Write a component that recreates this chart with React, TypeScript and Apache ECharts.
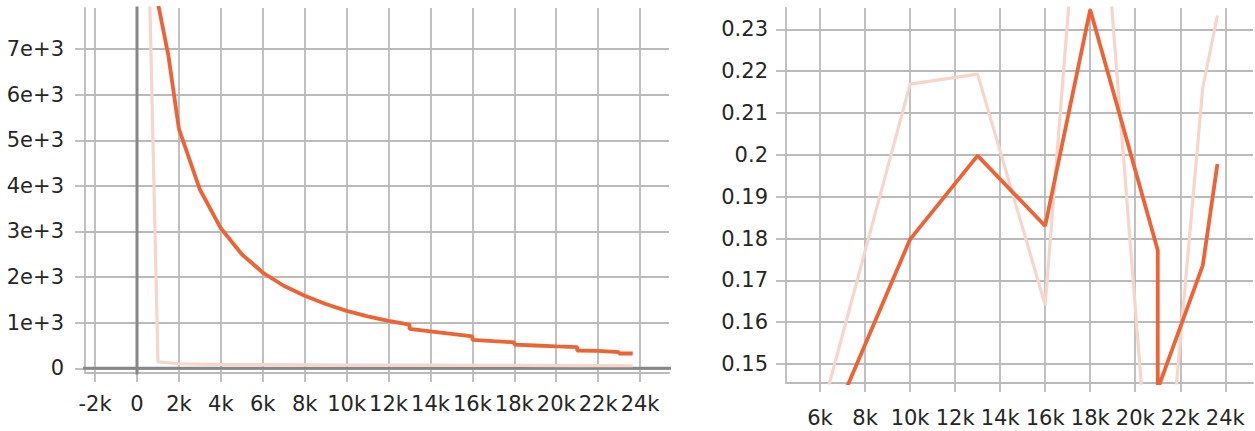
import React, { useEffect, useRef } from "react";
import * as echarts from "echarts";

// ---------- Left panel (loss-like, large values) ----------
const leftSmoothSteps = [0, 1000, 1500, 2000, 3000, 4000, 5000, 6000, 7000, 8000, 9000, 10000, 11000, 12000, 13000, 13000, 14000, 15000, 16000, 16000, 17000, 18000, 18000, 19000, 20000, 21000, 21000, 22000, 23000, 23000, 23650];
const leftSmoothValues = [20400, 8000, 6850, 5250, 3920, 3070, 2500, 2100, 1810, 1590, 1410, 1260, 1140, 1040, 960, 865, 810, 755, 700, 625, 595, 570, 520, 500, 480, 465, 390, 380, 355, 325, 325];
const leftRawSteps = [0, 1000, 2000, 3000, 4000, 6000, 8000, 10000, 13000, 16000, 18000, 21000, 23000, 23650];
const leftRawValues = [20400, 140, 100, 90, 85, 80, 76, 72, 68, 64, 62, 60, 58, 56];
const leftXTicks = [-2000, 0, 2000, 4000, 6000, 8000, 10000, 12000, 14000, 16000, 18000, 20000, 22000, 24000];
const leftXLabels = ["-2k", "0", "2k", "4k", "6k", "8k", "10k", "12k", "14k", "16k", "18k", "20k", "22k", "24k"];
const leftYTicks = [0, 1000, 2000, 3000, 4000, 5000, 6000, 7000];
const leftYLabels = ["0", "1e+3", "2e+3", "3e+3", "4e+3", "5e+3", "6e+3", "7e+3"];

// ---------- Right panel (small values) ----------
const rightSmoothSteps = [7000, 10000, 13000, 16000, 18000, 21000, 21000, 23000, 23650];
const rightSmoothValues = [0.142, 0.1798, 0.1998, 0.183, 0.2347, 0.1772, 0.144, 0.1736, 0.1978];
const rightRawSteps = [6000, 10000, 13000, 16000, 18000, 21000, 23000, 23650];
const rightRawValues = [0.137, 0.2169, 0.2193, 0.1641, 0.301, 0.095, 0.2161, 0.2333];
const rightXTicks = [6000, 8000, 10000, 12000, 14000, 16000, 18000, 20000, 22000, 24000];
const rightXLabels = ["6k", "8k", "10k", "12k", "14k", "16k", "18k", "20k", "22k", "24k"];
const rightYTicks = [0.15, 0.16, 0.17, 0.18, 0.19, 0.2, 0.21, 0.22, 0.23];
const rightYLabels = ["0.15", "0.16", "0.17", "0.18", "0.19", "0.2", "0.21", "0.22", "0.23"];

const SMOOTH = "#ee6336";
const RAW = "#f6d5ca";
const GRID = "#bababa";
const ZERO = "#878787";
const TEXT = "#262626";
const FONT = "DejaVu Sans";
const FONT_SIZE = 21;

const zip = (xs: number[], ys: number[]) => xs.map((x, i) => [x, ys[i]]);

function labelFor(ticks: number[], labels: string[]) {
  return (v: number) => {
    let best = 0;
    for (let i = 0; i < ticks.length; i++) {
      if (Math.abs(ticks[i] - v) < Math.abs(ticks[best] - v)) best = i;
    }
    return labels[best];
  };
}

function xAxis(grid: number, min: number, max: number, ticks: number[], labels: string[], margin: number) {
  return {
    type: "value",
    gridIndex: grid,
    min,
    max,
    axisLine: { show: true, onZero: false, lineStyle: { color: GRID, width: 1.8 } },
    axisTick: { show: true, length: 9, customValues: ticks, lineStyle: { color: GRID, width: 1.8 } },
    axisLabel: {
      customValues: ticks,
      formatter: labelFor(ticks, labels),
      margin,
      fontSize: FONT_SIZE,
      color: TEXT,
      fontFamily: FONT,
    },
    splitLine: { show: true, lineStyle: { color: GRID, width: 1.8 } },
  };
}

function yAxis(grid: number, min: number, max: number, ticks: number[], labels: string[], margin: number) {
  return {
    type: "value",
    gridIndex: grid,
    min,
    max,
    axisLine: { show: true, onZero: false, lineStyle: { color: GRID, width: 1.8 } },
    axisTick: { show: true, length: 10, customValues: ticks, lineStyle: { color: GRID, width: 1.8 } },
    axisLabel: {
      customValues: ticks,
      formatter: labelFor(ticks, labels),
      margin,
      fontSize: FONT_SIZE,
      color: TEXT,
      fontFamily: FONT,
    },
    splitLine: { show: true, lineStyle: { color: GRID, width: 1.8 } },
  };
}

export default function App() {
  const ref = useRef<HTMLDivElement>(null);
  useEffect(() => {
    if (!ref.current) return;
    const chart = echarts.init(ref.current, null, { renderer: "svg" });
    const option = {
      animation: false,
      backgroundColor: "#ffffff",
      grid: [
        { left: 85, top: 8, width: 584, height: 365 },
        { left: 786, top: 8, width: 467, height: 375 },
      ],
      xAxis: [
        xAxis(0, -2481, 25380, leftXTicks, leftXLabels, 20),
        xAxis(1, 4490, 25230, rightXTicks, rightXLabels, 24),
      ],
      yAxis: [
        yAxis(0, -103, 7900, leftYTicks, leftYLabels, 21),
        yAxis(1, 0.14546, 0.2351, rightYTicks, rightYLabels, 18),
      ],
      series: [
        {
          type: "line",
          xAxisIndex: 0,
          yAxisIndex: 0,
          data: [[0, -1000], [0, 10000]],
          showSymbol: false,
          clip: true,
          silent: true,
          lineStyle: { color: ZERO, width: 3 },
        },
        {
          type: "line",
          xAxisIndex: 0,
          yAxisIndex: 0,
          data: [[-5000, 0], [30000, 0]],
          showSymbol: false,
          clip: true,
          silent: true,
          lineStyle: { color: ZERO, width: 3 },
        },
        {
          type: "line",
          xAxisIndex: 0,
          yAxisIndex: 0,
          data: zip(leftRawSteps, leftRawValues),
          showSymbol: false,
          clip: true,
          lineStyle: { color: RAW, width: 3.2 },
        },
        {
          type: "line",
          xAxisIndex: 0,
          yAxisIndex: 0,
          data: zip(leftSmoothSteps, leftSmoothValues),
          showSymbol: false,
          clip: true,
          lineStyle: { color: SMOOTH, width: 3.8 },
        },
        {
          type: "line",
          xAxisIndex: 1,
          yAxisIndex: 1,
          data: zip(rightRawSteps, rightRawValues),
          showSymbol: false,
          clip: true,
          lineStyle: { color: RAW, width: 3.2 },
        },
        {
          type: "line",
          xAxisIndex: 1,
          yAxisIndex: 1,
          data: zip(rightSmoothSteps, rightSmoothValues),
          showSymbol: false,
          clip: true,
          lineStyle: { color: SMOOTH, width: 3.8 },
        },
      ],
    };
    chart.setOption(option as any);
    return () => chart.dispose();
  }, []);
  return (
    <div
      ref={ref}
      style={{ position: "fixed", left: 0, top: 0, width: 1255, height: 431, background: "#fff" }}
    />
  );
}
